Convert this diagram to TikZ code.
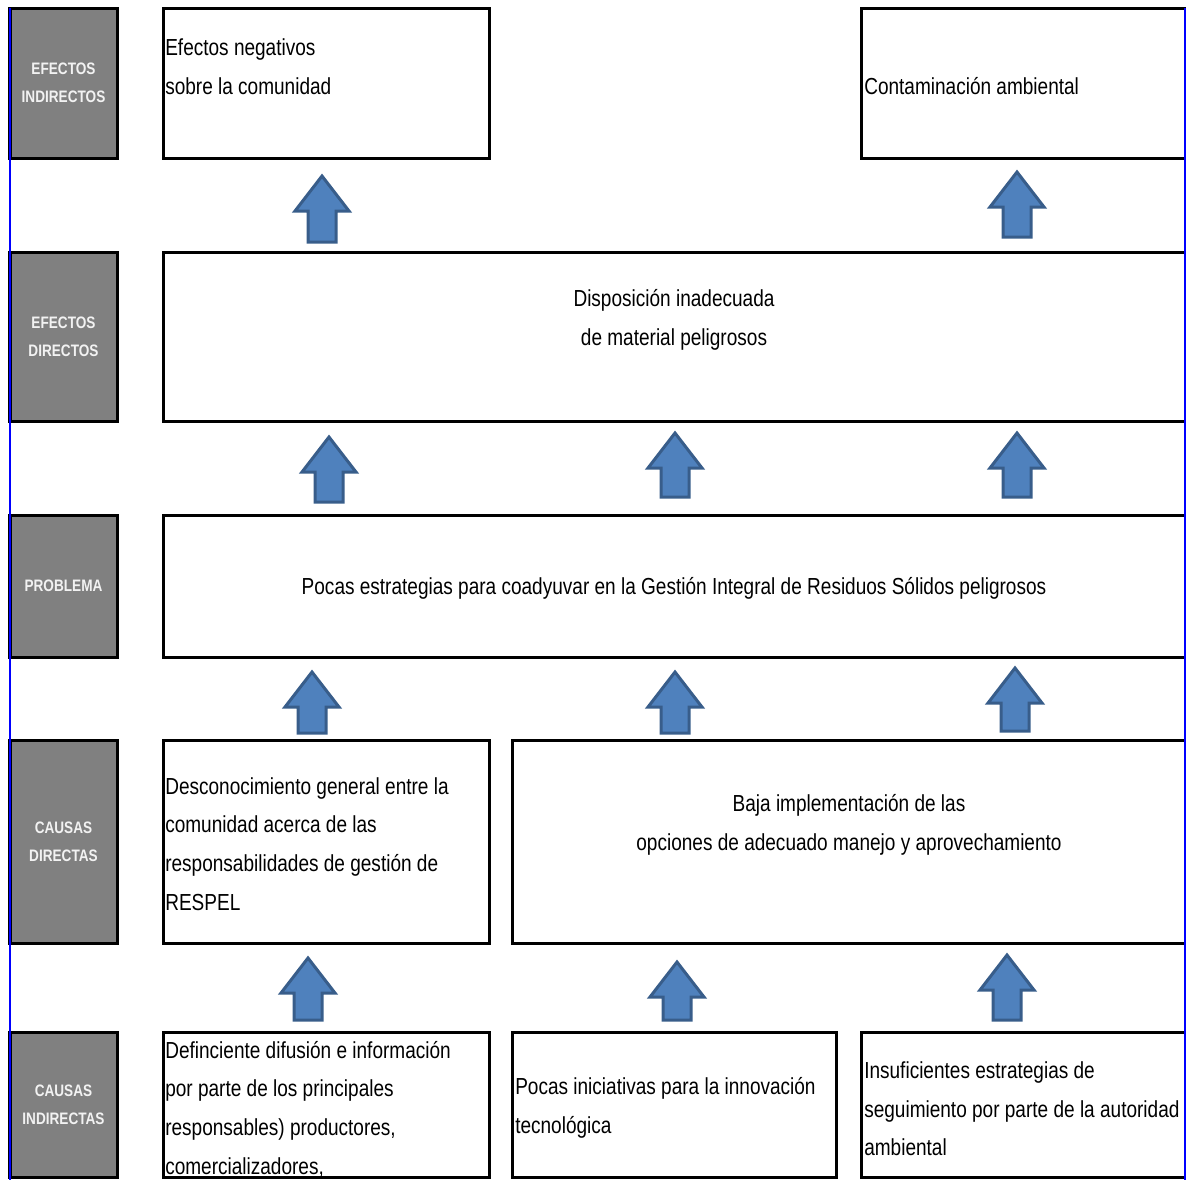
\documentclass[tikz,border=0pt]{standalone}
\usepackage{fontspec}
\setmainfont[FakeStretch=0.82]{Liberation Sans}
\usepackage{xcolor}
\usetikzlibrary{fit,calc}

\definecolor{lblgray}{RGB}{128,128,128}
\definecolor{lbltext}{RGB}{242,242,242}
\definecolor{arrfill}{RGB}{79,129,189}
\definecolor{arrdraw}{RGB}{56,93,138}

% block arrow pointing up: centre x, tip y, foot y
\newcommand{\blockup}[3]{%
  \draw[uparr] (#1,#2) -- (#1+27,#2+35) -- (#1+14,#2+35) -- (#1+14,#3)
    -- (#1-14,#3) -- (#1-14,#2+35) -- (#1-27,#2+35) -- cycle;}

\begin{document}
\begin{tikzpicture}[x=0.025cm,y=-0.025cm,
  box/.style={draw,line width=0.075cm,inner sep=0pt},
  lbl/.style={box,fill=lblgray},
  lbltxt/.style={inner sep=0pt,text=lbltext,align=center,
    font=\fontsize{11.8}{20}\selectfont\bfseries},
  txt/.style={inner sep=0pt,font=\fontsize{16.5}{27.5}\selectfont},
  uparr/.style={fill=arrfill,draw=arrdraw,line width=0.075cm,line join=miter},
  edge/.style={draw=blue,line width=0.035cm}]
  \useasboundingbox (0,0) rectangle (1186,1180);

  % row labels
  \node[lbl,fit={(10,8) (117,158)}] (ei) {};
  \node[lbl,fit={(10,252) (117,421)}] (ed) {};
  \node[lbl,fit={(10,515) (117,657)}] (pr) {};
  \node[lbl,fit={(10,740) (117,943)}] (cd) {};
  \node[lbl,fit={(10,1032) (117,1177)}] (ci) {};
  \node[lbltxt] (tei) at (ei.center) {EFECTOS\\INDIRECTOS};
  \node[lbltxt] (ted) at (ed.center) {EFECTOS\\DIRECTOS};
  \node[lbltxt] (tpr) at (pr.center) {PROBLEMA};
  \node[lbltxt] (tcd) at (cd.center) {CAUSAS\\DIRECTAS};
  \node[lbltxt] (tci) at (ci.center) {CAUSAS\\INDIRECTAS};

  % boxes
  \node[box,fit={(163,8) (489,158)}] (neg) {};
  \node[box,fit={(861,8) (1186,158)}] (cont) {};
  \node[box,fit={(163,252) (1186,421)}] (disp) {};
  \node[box,fit={(163,515) (1186,657)}] (prob) {};
  \node[box,fit={(163,740) (489,943)}] (desc) {};
  \node[box,fit={(512,740) (1186,943)}] (baja) {};
  \node[box,fit={(163,1032) (489,1177)}] (difu) {};
  \node[box,fit={(512,1032) (836,1177)}] (inno) {};
  \node[box,fit={(861,1032) (1186,1177)}] (segu) {};

  % texts
  \node[txt,anchor=west,align=left] (tneg) at (165,66.5) {Efectos negativos\\sobre la comunidad};
  \node[txt,anchor=west] (tcont) at (864,86) {Contaminación ambiental};
  \node[txt,align=center] (tdisp) at (674,320) {Disposición inadecuada\\de material peligrosos};
  \node[txt] (tprob) at (674,588) {Pocas estrategias para coadyuvar en la Gestión Integral de Residuos Sólidos peligrosos};
  \node[txt,anchor=west,align=left] (tdesc) at (165,844) {Desconocimiento general entre la\\comunidad acerca de las\\responsabilidades de gestión de\\RESPEL};
  \node[txt,align=center] (tbaja) at (849,825) {Baja implementación de las\\opciones de adecuado manejo y aprovechamiento};
  \node[txt,anchor=west,align=left] (tdifu) at (165,1109) {Definciente difusión e información\\por parte de los principales\\responsables) productores,\\comercializadores,};
  \node[txt,anchor=west,align=left] (tinno) at (515,1108) {Pocas iniciativas para la innovación\\tecnológica};
  \node[txt,anchor=west,align=left] (tsegu) at (864,1109) {Insuficientes estrategias de\\seguimiento por parte de la autoridad\\ambiental};

  % arrows
  \blockup{322}{176}{242}
  \blockup{1017}{172}{237}
  \blockup{329}{437}{502}
  \blockup{675}{433}{497}
  \blockup{1017}{433}{497}
  \blockup{312}{672}{733}
  \blockup{675}{672}{733}
  \blockup{1015}{668}{731}
  \blockup{308}{958}{1020}
  \blockup{677}{962}{1020}
  \blockup{1007}{955}{1020}

  % page edges
  \draw[edge] (10,8) -- (10,1180);
  \draw[edge] (1185,8) -- (1185,1180);
\end{tikzpicture}
\end{document}
